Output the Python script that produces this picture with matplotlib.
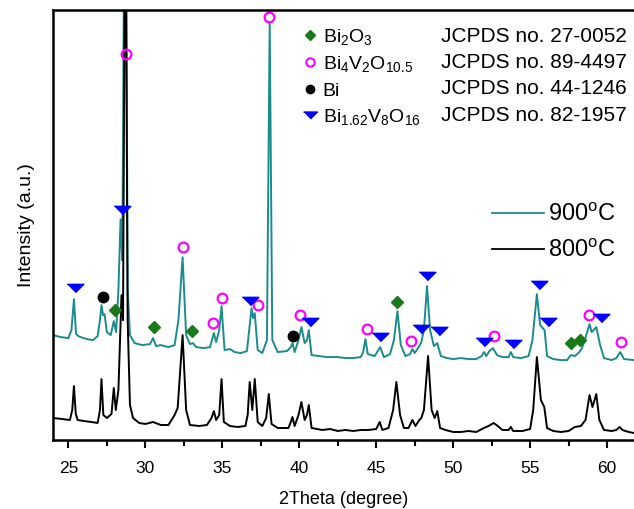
import numpy as np
import matplotlib as mpl
mpl.use('Agg')
import matplotlib.pyplot as plt
from matplotlib.lines import Line2D

plt.rcParams['font.family'] = ['Liberation Sans', 'DejaVu Sans']
plt.rcParams['mathtext.fontset'] = 'custom'
plt.rcParams['mathtext.rm'] = 'Liberation Sans'
plt.rcParams['mathtext.it'] = 'Liberation Sans:italic'

# XRD traces (2theta in degree, intensity in a.u.)
tt_800 = [24.0, 24.6, 25.1, 25.25, 25.36, 25.48, 25.6, 26.0, 26.5, 26.9, 27.05, 27.15, 27.27, 27.5,
          27.8, 27.95, 28.08, 28.25, 28.45, 28.55, 28.7, 28.85, 29.0, 29.2, 29.6, 30.0, 30.5, 31.0,
          31.5, 31.9, 32.1, 32.42, 32.65, 32.9, 33.5, 34.0, 34.3, 34.45, 34.6, 34.8, 34.95, 35.1,
          35.5, 36.0, 36.5, 36.65, 36.78, 36.95, 37.11, 37.3, 37.6, 37.85, 38.02, 38.2, 38.6, 39.3,
          39.45, 39.56, 39.7, 39.95, 40.14, 40.35, 40.5, 40.62, 40.8, 41.5, 42.0, 42.5, 43.0, 43.5,
          44.0, 44.5, 45.0, 45.23, 45.4, 45.8, 46.1, 46.31, 46.55, 46.8, 47.1, 47.35, 47.55, 47.8,
          47.93, 48.1, 48.37, 48.6, 48.8, 48.97, 49.15, 49.5, 50.0, 50.5, 51.0, 51.5, 52.0, 52.3,
          52.63, 52.9, 53.2, 53.6, 53.75, 53.9, 54.5, 55.0, 55.2, 55.44, 55.7, 55.92, 56.1, 56.5,
          57.0, 57.5, 57.9, 58.3, 58.6, 58.86, 59.05, 59.3, 59.5, 59.8, 60.3, 60.6, 60.81, 61.0,
          61.4, 61.75]
I_800 = [22, 21, 20, 30, 54, 26, 20, 19, 18, 17, 30, 61, 25, 22,
         26, 52, 30, 50, 145, 120, 600, 120, 35, 22, 17, 16, 18, 15,
         15, 25, 32, 105, 30, 15, 14, 15, 22, 29, 20, 25, 61, 18,
         14, 13, 14, 25, 58, 30, 61, 18, 14, 22, 46, 16, 12, 12,
         18, 23, 14, 25, 38, 20, 25, 35, 12, 10, 11, 9, 10, 9,
         10, 10, 11, 18, 10, 12, 30, 58, 25, 12, 12, 20, 14, 20,
         22, 30, 84, 30, 22, 29, 12, 10, 8, 8, 9, 8, 12, 14,
         17, 14, 10, 10, 13, 9, 9, 11, 30, 83, 40, 33, 12, 9,
         8, 9, 13, 14, 20, 45, 33, 46, 20, 10, 9, 10, 13, 10,
         8, 7]

tt_900 = [24.0, 24.5, 25.0, 25.2, 25.36, 25.5, 25.65, 25.8, 26.2, 26.6, 26.9, 27.05, 27.15, 27.25,
          27.35, 27.5, 27.75, 27.95, 28.1, 28.25, 28.39, 28.5, 28.7, 28.85, 29.0, 29.3, 29.8, 30.3,
          30.5, 30.7, 31.0, 31.5, 31.9, 32.15, 32.42, 32.65, 32.9, 33.1, 33.3, 33.8, 34.2, 34.45,
          34.6, 34.8, 34.95, 35.15, 35.5, 35.8, 36.2, 36.6, 36.75, 36.9, 37.0, 37.11, 37.3, 37.6,
          37.9, 38.08, 38.25, 38.6, 39.2, 39.45, 39.56, 39.7, 39.95, 40.14, 40.35, 40.5, 40.62, 40.8,
          41.3, 41.8, 42.5, 43.0, 43.5, 44.0, 44.15, 44.3, 44.45, 44.9, 45.26, 45.5, 45.9, 46.15,
          46.38, 46.6, 46.9, 47.2, 47.35, 47.5, 47.8, 47.93, 48.1, 48.3, 48.5, 48.75, 48.97, 49.2,
          49.6, 50.0, 50.5, 51.0, 51.5, 51.85, 52.0, 52.15, 52.35, 52.58, 52.85, 53.2, 53.6, 53.75,
          53.9, 54.4, 54.9, 55.15, 55.44, 55.65, 55.94, 56.1, 56.5, 57.0, 57.4, 57.65, 57.9, 58.2,
          58.37, 58.55, 58.86, 59.0, 59.3, 59.55, 59.8, 60.3, 60.6, 60.86, 61.1, 61.75]
I_900 = [105, 103, 102, 110, 141, 106, 104, 103, 101, 100, 104, 120, 135, 125,
         126, 108, 105, 119, 108, 150, 221, 180, 700, 150, 105, 97, 95, 96,
         102, 94, 95, 93, 95, 120, 183, 105, 96, 97, 93, 92, 93, 107,
         98, 110, 134, 90, 91, 88, 87, 89, 110, 132, 122, 127, 90, 87,
         100, 418, 100, 88, 89, 93, 97, 88, 100, 113, 97, 100, 110, 85,
         84, 83, 83, 82, 82, 83, 88, 101, 86, 84, 93, 83, 86, 100,
         129, 95, 84, 86, 91, 87, 94, 98, 110, 154, 110, 94, 97, 84,
         82, 81, 82, 81, 81, 84, 88, 84, 89, 92, 85, 83, 83, 88,
         83, 82, 84, 100, 146, 115, 110, 84, 81, 80, 80, 85, 84, 88,
         92, 100, 116, 108, 113, 95, 82, 80, 82, 88, 81, 80]

# phase markers (2theta, height)
bi2o3_x = [28.06, 30.57, 33.06, 46.35, 57.65, 58.26]
bi2o3_y = [130, 113, 109, 138, 97, 100]
bvo_x = [28.73, 32.42, 34.4, 34.99, 37.33, 38.04, 40.08, 44.4, 47.29, 52.63, 58.8, 60.92]
bvo_y = [386, 193, 117, 142, 135, 423, 125, 111, 99, 104, 125, 98]
bi_x = [27.22, 39.6]
bi_y = [143, 104]
b8_x = [25.42, 28.5, 36.83, 40.68, 45.27, 47.94, 48.3, 49.06, 51.98, 53.88, 55.55, 56.14, 59.6]
b8_y = [152, 230, 139, 118, 103, 111, 164, 109, 98, 96, 155, 118, 122]

phase_labels = ['Bi$_2$O$_3$', 'Bi$_4$V$_2$O$_{10.5}$', 'Bi', 'Bi$_{1.62}$V$_8$O$_{16}$']
jcpds_labels = ['JCPDS no. 27-0052', 'JCPDS no. 89-4497', 'JCPDS no. 44-1246', 'JCPDS no. 82-1957']

teal = '#1b8c8c'
green = '#1a7a1a'
pink = '#ff00ff'
blue = '#0000ff'
flat_tri = [(-1, 0.5), (1, 0.5), (0, -0.5)]

fig = plt.figure(figsize=(6.34, 5.09), dpi=100)
ax = fig.add_axes([0.0836, 0.1356, 0.9164, 0.8438])

ax.plot(tt_900, I_900, color=teal, lw=1.4)
ax.plot(tt_800, I_800, color='black', lw=1.4)

ax.plot(bi2o3_x, bi2o3_y, 'D', color=green, ms=6.5, ls='none')
ax.plot(bvo_x, bvo_y, 'o', mfc='none', mec=pink, mew=1.6, ms=7, ls='none')
ax.plot(bi_x, bi_y, 'o', color='black', ms=7.5, ls='none')
ax.plot(b8_x, b8_y, marker=flat_tri, color=blue, ms=12, ls='none')

ax.set_xlim(24, 61.75)
ax.set_ylim(0, 430)
ax.set_yticks([])
ax.set_xticks([25, 30, 35, 40, 45, 50, 55, 60])
ax.set_xticks(np.arange(27.5, 61, 5), minor=True)
ax.tick_params(axis='x', which='major', direction='out', length=6, width=1.5, labelsize=12.5, pad=9)
ax.tick_params(axis='x', which='minor', direction='out', length=4, width=1.5)
for s in ['left', 'bottom', 'top']:
    ax.spines[s].set_linewidth(1.8)
ax.spines['right'].set_visible(False)

ax.set_xlabel('2Theta (degree)', fontsize=13, labelpad=11)
ax.set_ylabel('Intensity (a.u.)', fontsize=14, labelpad=13)

# phase legend with JCPDS numbers as a second column
h = [Line2D([], [], marker='D', color=green, ms=5, ls='none'),
     Line2D([], [], marker='o', mfc='none', mec=pink, mew=1.5, ms=6, ls='none'),
     Line2D([], [], marker='o', color='black', ms=6, ls='none'),
     Line2D([], [], marker=flat_tri, color=blue, ms=10, ls='none')]
blank = [Line2D([], [], ls='none') for _ in range(4)]
leg1 = ax.legend(h + blank, phase_labels + jcpds_labels, ncol=2, loc='upper left',
                 bbox_to_anchor=(0.432, 0.962), frameon=False, fontsize=15,
                 handlelength=0.6, handletextpad=0.3, columnspacing=0.1,
                 labelspacing=0.35, borderpad=0, borderaxespad=0)
for t in leg1.get_texts()[:4]:
    t.set_fontsize(14)
ax.add_artist(leg1)

lh = [Line2D([], [], color=teal, lw=1.3), Line2D([], [], color='black', lw=1.3)]
ax.legend(lh, ['900$^{\\rm o}$C', '800$^{\\rm o}$C'], loc='upper left',
          bbox_to_anchor=(0.755, 0.55), frameon=False, fontsize=17,
          handlelength=2.2, handletextpad=0.2, labelspacing=0.6,
          borderpad=0, borderaxespad=0)

plt.savefig('out.png', dpi=100)
plt.close()
